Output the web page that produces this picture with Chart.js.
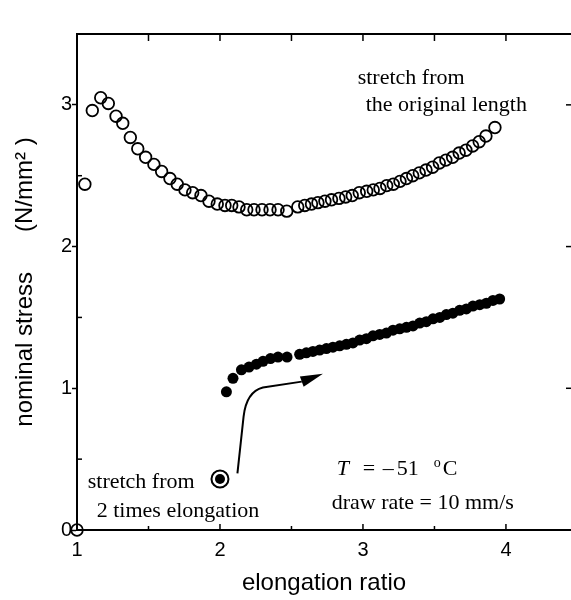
<!DOCTYPE html>
<html>
<head>
<meta charset="utf-8">
<script src="https://cdn.jsdelivr.net/npm/chart.js@4.4.1/dist/chart.umd.min.js"></script>
<style>
  html, body { margin: 0; padding: 0; background: #fff; }
  canvas { display: block; }
</style>
</head>
<body>
<canvas id="stressChart" width="571" height="600"></canvas>
<script>
"use strict";

// stretch from the original length (open circles)
const originalX = [1.00, 1.055, 1.107, 1.166, 1.219, 1.273, 1.320, 1.373, 1.425, 1.480,
  1.538, 1.592, 1.650, 1.701, 1.755, 1.809, 1.867, 1.923, 1.981, 2.035,
  2.082, 2.133, 2.187, 2.238, 2.294, 2.350, 2.406, 2.467, 2.544, 2.593,
  2.640, 2.685, 2.734, 2.780, 2.832, 2.879, 2.925, 2.974, 3.026, 3.072,
  3.119, 3.166, 3.212, 3.259, 3.304, 3.348, 3.394, 3.441, 3.487, 3.534,
  3.580, 3.627, 3.673, 3.720, 3.767, 3.813, 3.860, 3.923];
const originalY = [0.00, 2.44, 2.96, 3.05, 3.01, 2.92, 2.87, 2.77, 2.69, 2.63,
  2.58, 2.53, 2.48, 2.44, 2.40, 2.38, 2.36, 2.32, 2.30, 2.29,
  2.29, 2.28, 2.26, 2.26, 2.26, 2.26, 2.26, 2.25, 2.28, 2.29,
  2.30, 2.31, 2.32, 2.33, 2.34, 2.35, 2.36, 2.38, 2.39, 2.40,
  2.41, 2.43, 2.44, 2.46, 2.48, 2.50, 2.52, 2.54, 2.56, 2.59,
  2.61, 2.63, 2.66, 2.68, 2.71, 2.74, 2.78, 2.84];

// stretch from 2 times elongation (filled dots)
const preStretchX = [2.045, 2.091, 2.150, 2.203, 2.255, 2.301, 2.353, 2.406, 2.469, 2.557,
  2.604, 2.650, 2.697, 2.744, 2.790, 2.837, 2.884, 2.930, 2.977, 3.024,
  3.070, 3.117, 3.164, 3.210, 3.257, 3.304, 3.350, 3.397, 3.443, 3.490,
  3.537, 3.583, 3.629, 3.676, 3.723, 3.769, 3.817, 3.863, 3.909, 3.956];
const preStretchY = [0.975, 1.07, 1.13, 1.15, 1.17, 1.19, 1.21, 1.22, 1.22, 1.24,
  1.25, 1.26, 1.27, 1.28, 1.29, 1.30, 1.31, 1.32, 1.34, 1.35,
  1.37, 1.38, 1.39, 1.41, 1.42, 1.43, 1.44, 1.46, 1.47, 1.49,
  1.50, 1.52, 1.53, 1.55, 1.56, 1.58, 1.59, 1.60, 1.62, 1.63];

// the held sample before the second stretch (circled dot)
const startX = [2.0];
const startY = [0.36];

const xTicks = [1, 2, 3, 4];
const yTicks = [0, 1, 2, 3];
const xMinorTicks = [1.5, 2.5, 3.5];
const yMinorTicks = [0.5, 1.5, 2.5];

const toPoints = (xs, ys) => xs.map((x, i) => ({ x, y: ys[i] }));

const SERIF = "'Liberation Serif', 'Times New Roman', serif";
const SANS = "'Liberation Sans', Arial, sans-serif";

// text notes, anchored in data units (left edge, baseline)
const notes = [
  { text: "stretch from", x: 2.963, y: 3.149 },
  { text: "the original length", x: 3.019, y: 2.958 },
  { text: "stretch from", x: 1.075, y: 0.297 },
  { text: "2 times elongation", x: 1.138, y: 0.092 },
  { text: "draw rate = 10 mm/s", x: 2.781, y: 0.150 },
];

// arrow from the circled dot towards the filled curve
const arrowStart = { x: 2.122, y: 0.40 };
const arrowBend = { x: 2.165, y: 0.80 };
const arrowCtrl = { x: 2.185, y: 0.975 };
const arrowCorner = { x: 2.30, y: 1.005 };
const arrowBase = { x: 2.572, y: 1.047 };
const arrowTip = { x: 2.720, y: 1.102 };

const framePlugin = {
  id: "frame",
  afterDraw(chart) {
    const { ctx, chartArea: a, scales: { x, y } } = chart;
    const px = p => [x.getPixelForValue(p.x), y.getPixelForValue(p.y)];
    ctx.save();
    ctx.strokeStyle = "#000";
    ctx.fillStyle = "#000";

    // top edge
    ctx.lineWidth = 2;
    ctx.beginPath();
    ctx.moveTo(a.left, a.top);
    ctx.lineTo(a.right, a.top);
    ctx.stroke();

    ctx.lineWidth = 1.5;
    const line = (x1, y1, x2, y2) => {
      ctx.beginPath();
      ctx.moveTo(x1, y1);
      ctx.lineTo(x2, y2);
      ctx.stroke();
    };
    // bottom ticks, pointing in
    xTicks.slice(1).forEach(v => { const p = x.getPixelForValue(v); line(p, a.bottom, p, a.bottom - 6); });
    xMinorTicks.forEach(v => { const p = x.getPixelForValue(v); line(p, a.bottom, p, a.bottom - 4); });
    // top ticks
    xTicks.slice(1).concat(xMinorTicks).forEach(v => {
      const p = x.getPixelForValue(v); line(p, a.top, p, a.top + 7);
    });
    // left minor ticks, pointing in
    yMinorTicks.forEach(v => { const p = y.getPixelForValue(v); line(a.left, p, a.left + 5, p); });
    // right ticks
    yTicks.slice(1).forEach(v => { const p = y.getPixelForValue(v); line(a.right - 5, p, a.right, p); });

    // arrow
    ctx.lineWidth = 2;
    const s = px(arrowStart), b = px(arrowBend), c = px(arrowCtrl), k = px(arrowCorner);
    const base = px(arrowBase), tip = px(arrowTip);
    ctx.beginPath();
    ctx.moveTo(s[0], s[1]);
    ctx.lineTo(b[0], b[1]);
    ctx.quadraticCurveTo(c[0], c[1], k[0], k[1]);
    ctx.lineTo(base[0], base[1]);
    ctx.stroke();
    const ang = Math.atan2(tip[1] - base[1], tip[0] - base[0]);
    const hw = 5.5;
    ctx.beginPath();
    ctx.moveTo(tip[0], tip[1]);
    ctx.lineTo(base[0] + hw * Math.sin(ang), base[1] - hw * Math.cos(ang));
    ctx.lineTo(base[0] - hw * Math.sin(ang), base[1] + hw * Math.cos(ang));
    ctx.closePath();
    ctx.fill();

    // notes
    ctx.textBaseline = "alphabetic";
    ctx.textAlign = "left";
    ctx.font = "22px " + SERIF;
    notes.forEach(n => {
      const [tx, ty] = px(n);
      ctx.fillText(n.text, tx, ty);
    });

    // T = -51 degC
    const [tx, ty] = px({ x: 2.816, y: 0.389 });
    ctx.font = "italic 22px " + SERIF;
    ctx.fillText("T", tx, ty);
    ctx.font = "22px " + SERIF;
    ctx.fillText("=", tx + 26, ty);
    ctx.fillText("\u2013", tx + 46, ty);
    ctx.fillText("51", tx + 60, ty);
    ctx.fillText("C", tx + 106, ty);
    ctx.font = "14px " + SERIF;
    ctx.fillText("o", tx + 97, ty - 8);
    ctx.restore();
  }
};

new Chart(document.getElementById("stressChart"), {
  type: "scatter",
  data: {
    datasets: [
      {
        label: "stretch from the original length",
        data: toPoints(originalX, originalY),
        pointStyle: "circle",
        pointRadius: 5.8,
        borderWidth: 1.8,
        borderColor: "#000",
        backgroundColor: "rgba(0,0,0,0)",
        clip: false
      },
      {
        label: "stretch from 2 times elongation",
        data: toPoints(preStretchX, preStretchY),
        pointStyle: "circle",
        pointRadius: 5.5,
        borderWidth: 0,
        backgroundColor: "#000"
      },
      {
        label: "start dot",
        data: toPoints(startX, startY),
        pointRadius: 5,
        borderWidth: 0,
        backgroundColor: "#000"
      },
      {
        label: "start ring",
        data: toPoints(startX, startY),
        pointRadius: 8.5,
        borderWidth: 2,
        borderColor: "#000",
        backgroundColor: "#fff"
      }
    ]
  },
  options: {
    responsive: false,
    animation: false,
    layout: { autoPadding: false, padding: { top: 34, right: 0, bottom: 0, left: 0 } },
    plugins: {
      legend: { display: false },
      tooltip: { enabled: false }
    },
    scales: {
      x: {
        type: "linear",
        min: 1,
        max: 4.455,
        afterBuildTicks: s => { s.ticks = xTicks.map(v => ({ value: v })); },
        afterFit: s => { s.height = 70; s.paddingLeft = 0; s.paddingRight = 0; },
        grid: { drawOnChartArea: false, drawTicks: false },
        border: { color: "#000", width: 2 },
        ticks: { color: "#000", padding: 8, font: { family: SANS, size: 20 } },
        title: {
          display: true,
          text: "elongation ratio",
          color: "#000",
          padding: { top: 0, bottom: 2 },
          font: { family: SANS, size: 24 }
        }
      },
      y: {
        min: 0,
        max: 3.5,
        afterBuildTicks: s => { s.ticks = yTicks.map(v => ({ value: v })); },
        afterFit: s => { s.width = 77; s.paddingTop = 0; s.paddingBottom = 0; },
        grid: { drawOnChartArea: false, tickLength: 5, tickColor: "#000", tickWidth: 1.5 },
        border: { color: "#000", width: 2 },
        ticks: { color: "#000", padding: 0, font: { family: SANS, size: 20 } },
        title: {
          display: true,
          text: "nominal stress      (N/mm\u00b2 )",
          color: "#000",
          padding: { top: 11, bottom: 0 },
          font: { family: SANS, size: 24 }
        }
      }
    }
  },
  plugins: [framePlugin]
});
</script>
</body>
</html>
